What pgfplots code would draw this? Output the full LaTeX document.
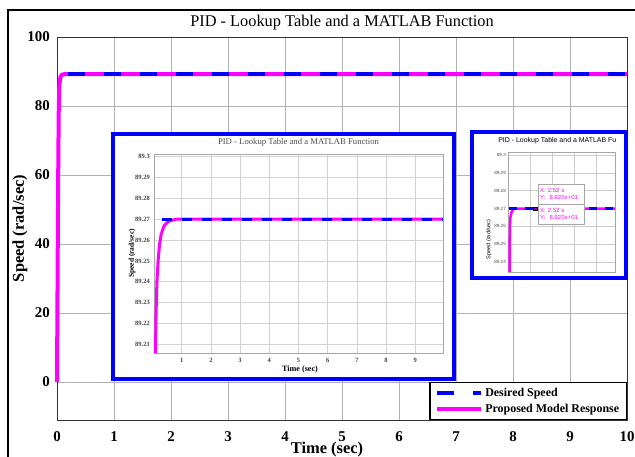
\documentclass[border=0pt]{standalone}
\usepackage{fontspec}
\setmainfont{Liberation Serif}
\newfontfamily\sans{Liberation Sans}
\usepackage{pgfplots}
\pgfplotsset{compat=1.18}
\definecolor{mag}{RGB}{255,0,255}
\definecolor{blu}{RGB}{0,0,255}

\begin{document}
\begin{tikzpicture}[x=1bp,y=1bp]
\useasboundingbox (0,0) rectangle (635,457);
\fill[white] (0,0) rectangle (635,457);
\draw[black, line width=1.6bp] (8,-2) -- (8,447) -- (637,447);

% ---------------- main axis ----------------
\begin{axis}[
  at={(57bp,37bp)}, anchor=south west,
  scale only axis, width=570bp, height=383bp,
  xmin=0, xmax=10, ymin=-11, ymax=100,
  xtick={0,1,...,10}, ytick={0,20,...,100},
  grid=major, major grid style={gray!60, line width=0.7bp},
  axis line style={black!80, line width=0.8bp},
  tick style={draw=none},
  clip=false,
  /pgf/number format/assume math mode=true,
  tick label style={font=\bfseries\fontsize{15}{15}\selectfont},
  xticklabel style={anchor=base, yshift=-22bp},
  yticklabel style={anchor=east, inner sep=0pt, xshift=-7bp},
  title={PID - Lookup Table and a MATLAB Function},
  title style={font=\fontsize{16.4}{16}\selectfont, at={(axis description cs:0.5,1)}, anchor=base, yshift=5bp},
  xlabel={Time (sec)},
  xlabel style={font=\bfseries\fontsize{16.5}{16}\selectfont, at={(axis description cs:0.5,0)}, anchor=base, yshift=-33.5bp, xshift=-15bp},
  ylabel={Speed (rad/sec)},
  every axis y label/.style={font=\bfseries\fontsize{16.5}{16}\selectfont, at={(axis description cs:-0.0649,0.5)}, rotate=90, anchor=center},
  reverse legend,
  legend cell align=left,
  legend image code/.code={\draw[#1] (0bp,0bp) -- (44bp,0bp);},
  legend style={at={(axis description cs:1,0)}, anchor=south east, draw=black, line width=1.2bp,
    font=\bfseries\fontsize{12}{12}\selectfont, inner xsep=5bp, inner ysep=3bp, row sep=2.5bp,
    nodes={inner sep=2.2bp}},
]
\addplot[mag, line width=4bp] coordinates {
  (0,0) (0.01,30) (0.02,58) (0.03,78) (0.04,86) (0.06,88.4) (0.09,89.1) (0.15,89.27) (10,89.27)};
\addlegendentry{Proposed Model Response}
\addplot[blu, line width=4bp, dash pattern=on 17bp off 19bp] coordinates {(0.2,89.27) (10,89.27)};
\addlegendentry{Desired Speed}
\end{axis}

% ---------------- inset 1 ----------------
\draw[blu, line width=4bp, fill=white] (113,78) rectangle (454,323);
\begin{axis}[
  at={(154bp,104bp)}, anchor=south west,
  scale only axis, width=289bp, height=199bp,
  xmin=0.05, xmax=9.95, ymin=89.2058, ymax=89.3013,
  xtick={1,2,...,9},
  ytick={89.21,89.22,89.23,89.24,89.25,89.26,89.27,89.28,89.29,89.3},
  yticklabels={89.21,89.22,89.23,89.24,89.25,89.26,89.27,89.28,89.29,89.3},
  grid=major, major grid style={gray!35, line width=0.5bp},
  axis line style={gray!70, line width=0.6bp},
  tick style={draw=none},
  /pgf/number format/assume math mode=true,
  tick label style={font=\bfseries\fontsize{6.5}{6.5}\selectfont, text=black!75},
  xticklabel style={anchor=base, yshift=-9.5bp},
  yticklabel style={anchor=east, inner sep=0pt, xshift=-4bp},
  title={PID - Lookup Table and a MATLAB Function},
  title style={font=\fontsize{8.7}{9}\selectfont, text=black!70, at={(axis description cs:0.5,1)}, anchor=base, yshift=4bp},
  xlabel={Time (sec)},
  xlabel style={font=\bfseries\fontsize{8.2}{8}\selectfont, at={(axis description cs:0.5,0)}, anchor=base, yshift=-19bp, xshift=1.5bp},
  ylabel={Speed (rad/sec)},
  every axis y label/.style={font=\bfseries\fontsize{7.5}{7.5}\selectfont, at={(axis description cs:-0.0761,0.5)}, rotate=90, anchor=center},
]
\addplot[mag, line width=3bp] coordinates {
  (0.10,89.2058) (0.12,89.225) (0.15,89.24) (0.19,89.25) (0.24,89.258) (0.30,89.263)
  (0.40,89.267) (0.55,89.269) (0.8,89.27) (9.95,89.27)};
\addplot[blu, line width=3bp, dash pattern=on 10bp off 10bp] coordinates {(0.31,89.27) (9.95,89.27)};
\end{axis}

% ---------------- inset 2 ----------------
\draw[blu, line width=4bp, fill=white] (472,179) rectangle (626,325);
\begin{axis}[
  at={(508bp,185bp)}, anchor=south west,
  scale only axis, width=107bp, height=120bp,
  xmin=0, xmax=4.86, ymin=89.2344, ymax=89.3017,
  xtick={1,2,3,4}, xticklabels={},
  ytick={89.24,89.25,89.26,89.27,89.28,89.29,89.3},
  yticklabels={89.24,89.25,89.26,89.27,89.28,89.29,89.3},
  grid=major, major grid style={gray!40, line width=0.5bp},
  axis line style={gray!70, line width=0.6bp},
  tick style={draw=none},
  /pgf/number format/assume math mode=true,
  tick label style={font=\sans\fontsize{4.6}{4.6}\selectfont, text=black!70},
  yticklabel style={anchor=east, inner sep=0pt, xshift=-2bp},
  title={PID - Lookup Table and a MATLAB Fu},
  title style={font=\sans\fontsize{7}{7}\selectfont, at={(axis description cs:-0.093,1)}, anchor=base west, yshift=4bp, inner sep=0pt},
  ylabel={Speed (rad/sec)},
  every axis y label/.style={font=\sans\fontsize{5.6}{5.6}\selectfont, at={(axis description cs:-0.1776,0.27)}, rotate=90, anchor=center},
]
\addplot[mag, line width=2.5bp] coordinates {
  (0.07,89.2344) (0.075,89.25) (0.085,89.26) (0.11,89.265) (0.16,89.268) (0.27,89.27) (4.86,89.27)};
\addplot[blu, line width=2.5bp, dash pattern=on 8bp off 8bp] coordinates {(0.05,89.27) (4.86,89.27)};
\addplot[only marks, mark=square*, mark size=1.8bp, mark options={fill=mag!60!black, draw=black, line width=0.4bp}] coordinates {(1.23,89.27)};
\end{axis}
\node[draw=gray!70, fill=white, anchor=north west, minimum width=46bp, minimum height=20bp,
  text=mag, font=\sans\fontsize{6}{7}\selectfont, align=left, inner sep=1.5bp, text width=42bp] at (538,273)
  {X: 2.52 s\\Y:\ \ 8.927e+01};
\node[draw=gray!70, fill=white, anchor=north west, minimum width=46bp, minimum height=20bp,
  text=mag, font=\sans\fontsize{6}{7}\selectfont, align=left, inner sep=1.5bp, text width=42bp] at (538,253)
  {X: 2.52 s\\Y:\ \ 8.927e+01};
\end{tikzpicture}
\end{document}
